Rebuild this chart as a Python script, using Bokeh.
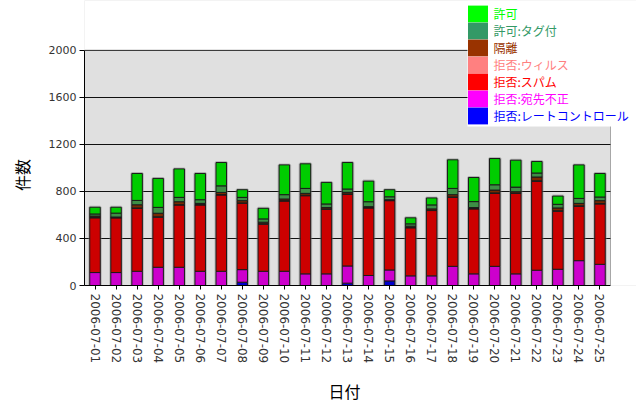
from bokeh.plotting import figure
from bokeh.models import (ColumnDataSource, FixedTicker, Legend, LegendItem,
                          BoxAnnotation, Range1d)
from bokeh.embed import file_html
from bokeh.resources import INLINE

dates = ["2006-07-%02d" % d for d in range(1, 26)]

rate_ctrl = [0, 0, 0, 0, 0, 0, 0, 28, 0, 0, 0, 0, 20, 0, 39, 0, 0, 0, 0, 0, 0, 0, 0, 0, 0]
bad_rcpt = [110, 110, 121, 155, 155, 121, 121, 107, 121, 121, 99, 99, 146, 85, 93, 82, 82, 163, 99, 163, 99, 130, 138, 211, 180]
spam = [465, 465, 535, 425, 529, 563, 648, 564, 400, 597, 664, 549, 609, 574, 589, 408, 555, 586, 552, 620, 684, 755, 493, 462, 513]
virus = [3, 2, 3, 4, 3, 4, 4, 3, 4, 3, 4, 3, 3, 3, 2, 3, 3, 4, 3, 4, 3, 5, 4, 4, 4]
quarantine = [12, 5, 27, 30, 25, 10, 18, 19, 13, 14, 16, 11, 14, 8, 6, 11, 11, 19, 8, 24, 11, 32, 24, 21, 24]
tagged = [18, 33, 37, 50, 37, 31, 56, 28, 28, 37, 42, 31, 28, 42, 25, 20, 34, 53, 51, 45, 39, 34, 31, 42, 31]
allowed = [57, 50, 229, 246, 242, 223, 198, 65, 90, 253, 209, 183, 225, 175, 60, 51, 59, 243, 205, 223, 229, 98, 70, 285, 200]

series_keys = ["rate_ctrl", "bad_rcpt", "spam", "virus", "quarantine", "tagged", "allowed"]
series_labels = ["拒否:レートコントロール", "拒否:宛先不正", "拒否:スパム", "拒否:ウィルス",
                 "隔離", "許可:タグ付", "許可"]
bar_colors = ["#0000CC", "#CC00CC", "#CC0000", "#CC6666", "#7A2900", "#3D8F45", "#00CC00"]
legend_colors = ["#0000FF", "#FF00FF", "#FF0000", "#FF8080", "#993300", "#339966", "#00FF00"]

y_ticks = [0, 400, 800, 1200, 1600, 2000]
y_max = 2000

pos = list(range(len(dates)))
totals = [sum(v) for v in zip(rate_ctrl, bad_rcpt, spam, virus, quarantine, tagged, allowed)]

source = ColumnDataSource(dict(pos=pos, date=dates, rate_ctrl=rate_ctrl, bad_rcpt=bad_rcpt,
                               spam=spam, virus=virus, quarantine=quarantine, tagged=tagged,
                               allowed=allowed, total=totals))

W, H = 636, 406
LEFT, BOTTOM = 84, H - 287
frame_w = W - LEFT
cat_w = 526 / len(dates)          # pixel width of one category in the plot area
x_lo = -0.5
x_hi_area = len(dates) - 0.5
x_hi = x_lo + frame_w / cat_w
frame_h = 287
y_hi = y_max * frame_h / 237.0

p = figure(x_range=Range1d(x_lo, x_hi), y_range=Range1d(0, y_hi), width=W, height=H,
           output_backend="svg", toolbar_location=None,
           min_border_left=LEFT, min_border_right=0, min_border_top=0,
           min_border_bottom=BOTTOM)

p.background_fill_color = "#E0E0E0"
p.border_fill_color = "white"
p.outline_line_color = None

p.xgrid.grid_line_color = None
p.ygrid.grid_line_color = "#111111"
p.ygrid.grid_line_width = 1
p.yaxis.ticker = FixedTicker(ticks=y_ticks)
p.xaxis.ticker = FixedTicker(ticks=pos)
p.xaxis.major_label_overrides = {i: d for i, d in zip(pos, dates)}
p.yaxis.bounds = (0, y_max)
p.xaxis.bounds = (x_lo, x_hi_area)

# shadow halo
p.vbar(x="pos", top="total", width=0.5, source=source, fill_color=None,
       line_color="#808080", line_width=3, line_alpha=0.45)

p.vbar_stack(series_keys, x="pos", width=0.5, source=source,
             fill_color=bar_colors, line_color="#1a1a1a", line_width=1)

for ax in (p.xaxis[0], p.yaxis[0]):
    ax.axis_line_color = "black"
    ax.major_tick_line_color = "black"
    ax.minor_tick_line_color = None
    ax.major_tick_in = 0
    ax.major_label_text_font = "DejaVu Sans"
    ax.major_label_text_color = "#333333"
    ax.axis_label_text_font = "Noto Sans CJK JP"
    ax.axis_label_text_font_style = "normal"
    ax.axis_label_text_font_size = "16px"
    ax.axis_label_text_color = "black"

p.yaxis.major_tick_out = 5
p.yaxis.major_label_standoff = 3
p.yaxis.major_label_text_font_size = "11px"
p.yaxis.axis_label = "件数\u3000\u3000\u3000\u3000"
p.yaxis.axis_label_standoff = 12

p.xaxis.major_tick_out = 4
p.xaxis.major_label_standoff = 4
p.xaxis.major_label_orientation = "vertical"
p.xaxis.major_label_text_font_size = "12px"
p.xaxis.axis_label = "日付\u3000\u3000"
p.xaxis.axis_label_standoff = 13

# white outside the plot area (above the top value and right of the last category)
p.add_layout(BoxAnnotation(bottom=y_max, fill_color="white", fill_alpha=1.0, line_color=None))
p.add_layout(BoxAnnotation(left=x_hi_area, fill_color="white", fill_alpha=1.0, line_color=None))
# plot-area border
p.add_layout(BoxAnnotation(left=x_lo, right=x_hi_area, bottom=0, top=y_max,
                           fill_alpha=0, line_color="black", line_width=1))
# white backdrop behind legend
p.add_layout(BoxAnnotation(left=383, bottom=159, left_units="screen", bottom_units="screen",
                           fill_color="white", fill_alpha=1.0, line_color=None))

# legend, top to bottom: 許可 ... 拒否:レートコントロール
order = list(range(len(series_keys)))[::-1]
for row, idx in enumerate(order):
    r = p.vbar(x="pos", top=series_keys[idx], width=0.5, source=source,
               fill_color=legend_colors[idx], line_color=None, visible=False)
    lg = Legend(items=[LegendItem(label=series_labels[idx], renderers=[r])],
                location=(380.5, 261 - 17 * row), padding=0, margin=0,
                glyph_width=25, glyph_height=21, label_height=21, label_standoff=4,
                background_fill_alpha=0, border_line_color=None,
                inactive_fill_alpha=0, click_policy="none",
                label_text_color=legend_colors[idx], label_text_font="Noto Sans CJK JP",
                label_text_font_size="12px")
    p.add_layout(lg)

open("out.html", "w").write(file_html(p, INLINE))
